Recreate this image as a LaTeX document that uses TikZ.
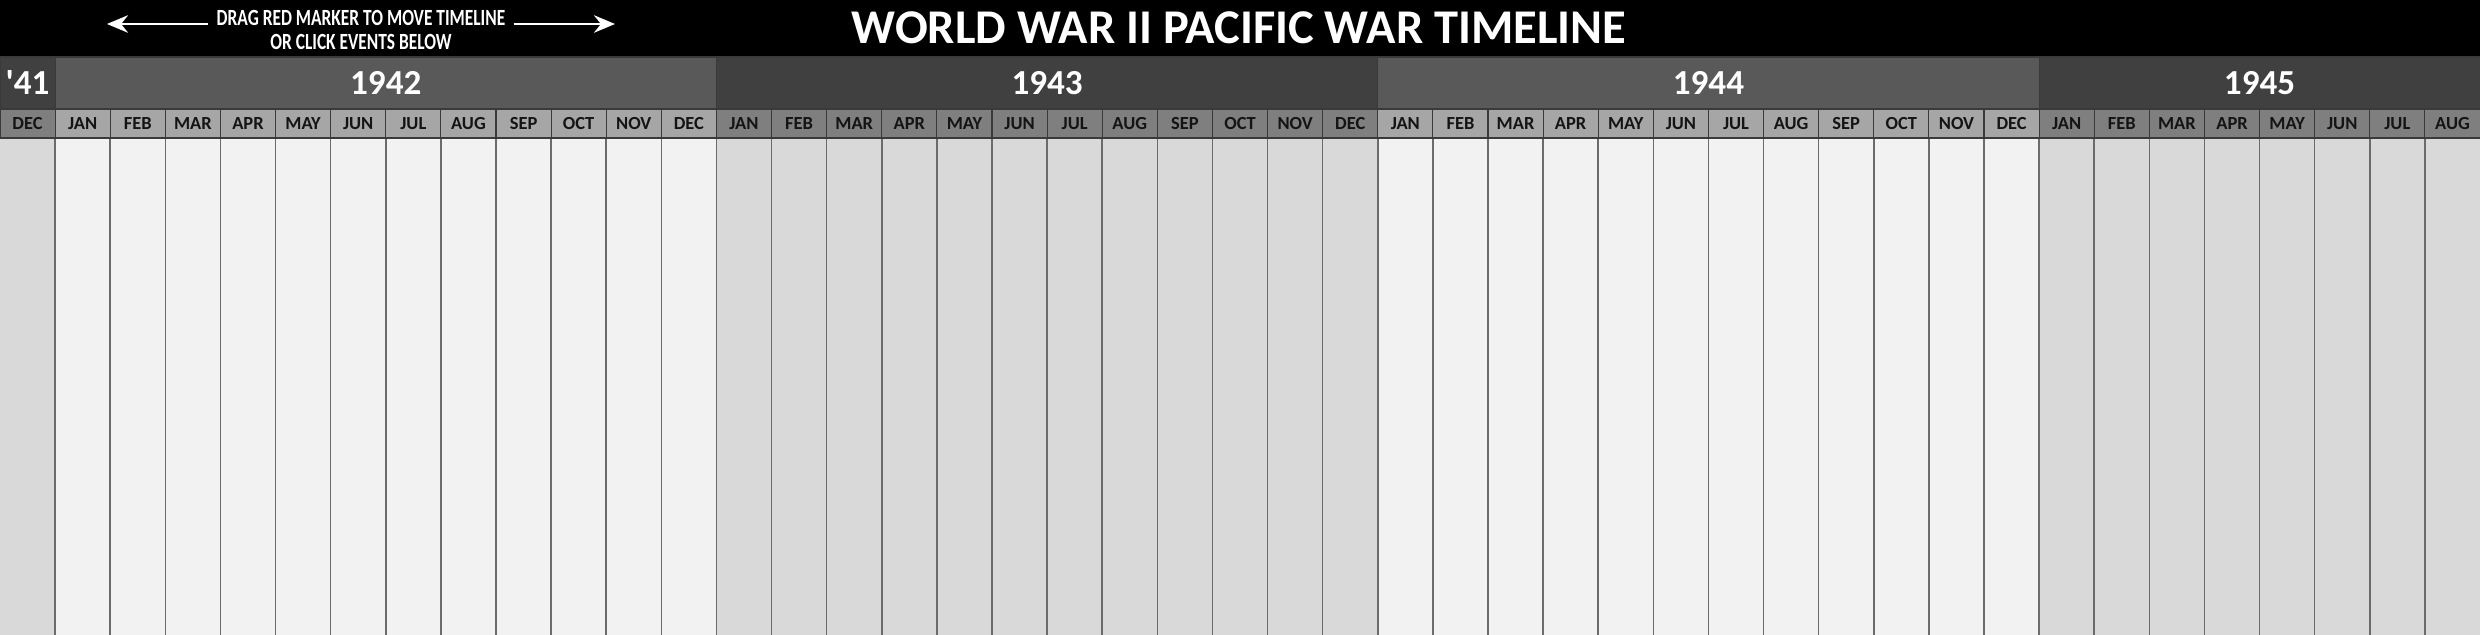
\documentclass[tikz,border=0pt]{standalone}
\usepackage{fontspec}
\setmainfont{Carlito}
\newfontfamily\condfont{Carlito}[FakeStretch=0.75]
\usetikzlibrary{arrows.meta}

\begin{document}
\begin{tikzpicture}[x=0.02cm, y=-0.02cm, >={Stealth[length=12pt,width=10pt,inset=4pt]},
  every node/.style={inner sep=0pt},
  yearlbl/.style={text=white, font=\bfseries\fontsize{20}{20}\selectfont},
  monthlbl/.style={text=MonthText, font=\bfseries\fontsize{10.5}{10.5}\selectfont},
  hint/.style={text=white, inner xsep=4.5pt, font=\condfont\bfseries\fontsize{13.2}{13.2}\selectfont},
  hintarrow/.style={->, draw=white, fill=white, line width=1.2pt},
  cell/.style={draw=CellLine, line width=0.6pt},
  grid/.style={draw=GridLine, line width=0.9pt}]
\definecolor{YearA}{HTML}{595959}\definecolor{YearB}{HTML}{404040}
\definecolor{MonA}{HTML}{A6A6A6}\definecolor{MonB}{HTML}{7F7F7F}
\definecolor{BodyA}{HTML}{F2F2F2}\definecolor{BodyB}{HTML}{D9D9D9}
\definecolor{MonthText}{HTML}{141414}\definecolor{CellLine}{HTML}{3A3A3A}\definecolor{GridLine}{HTML}{6B6B6B}
\def\cw{55.111}
\useasboundingbox (0,0) rectangle (2480,635);
\fill[black] (0,0) rectangle (2480,57);
\node[text=white, font=\bfseries\fontsize{27.6}{27.6}\selectfont] (title) at (1239,28) {WORLD WAR II PACIFIC WAR TIMELINE};
\node[hint] (hintA) at (361,17.5) {DRAG RED MARKER TO MOVE TIMELINE};
\node[hint] (hintB) at (361,41.5) {OR CLICK EVENTS BELOW};
\coordinate (lend) at (107,24);
\coordinate (rend) at (615,24);
\draw[hintarrow] (hintA.west |- lend) -- (lend);
\draw[hintarrow] (hintA.east |- rend) -- (rend);
\foreach \a/\b/\sh/\nm/\yr in {0/1/B/y41/\textquotesingle41, 1/13/A/y42/1942, 13/25/B/y43/1943, 25/37/A/y44/1944, 37/45/B/y45/1945}{
  \filldraw[cell, fill=Year\sh] (\a*\cw,57) rectangle (\b*\cw,109);
  \node[yearlbl] (\nm) at ({(\a+\b)/2*\cw},83) {\yr};
}
\foreach \i in {0,...,44}{
  \pgfmathtruncatemacro\k{mod(\i+11,12)}
  \pgfmathtruncatemacro\yi{div(\i+11,12)}
  \pgfmathparse{{"JAN","FEB","MAR","APR","MAY","JUN","JUL","AUG","SEP","OCT","NOV","DEC"}[\k]}
  \let\mn\pgfmathresult
  \ifodd\yi \def\sh{A}\else\def\sh{B}\fi
  \fill[Body\sh] (\i*\cw,138) rectangle ({(\i+1)*\cw},635);
  \filldraw[cell, fill=Mon\sh] (\i*\cw,109) rectangle ({(\i+1)*\cw},138);
  \node[monthlbl] (m\i) at ({(\i+0.5)*\cw},124) {\mn};
}
\foreach \i in {1,...,44} \draw[grid] (\i*\cw,138) -- (\i*\cw,635);
\draw[cell] (0,138) -- (2480,138);
\end{tikzpicture}
\end{document}
